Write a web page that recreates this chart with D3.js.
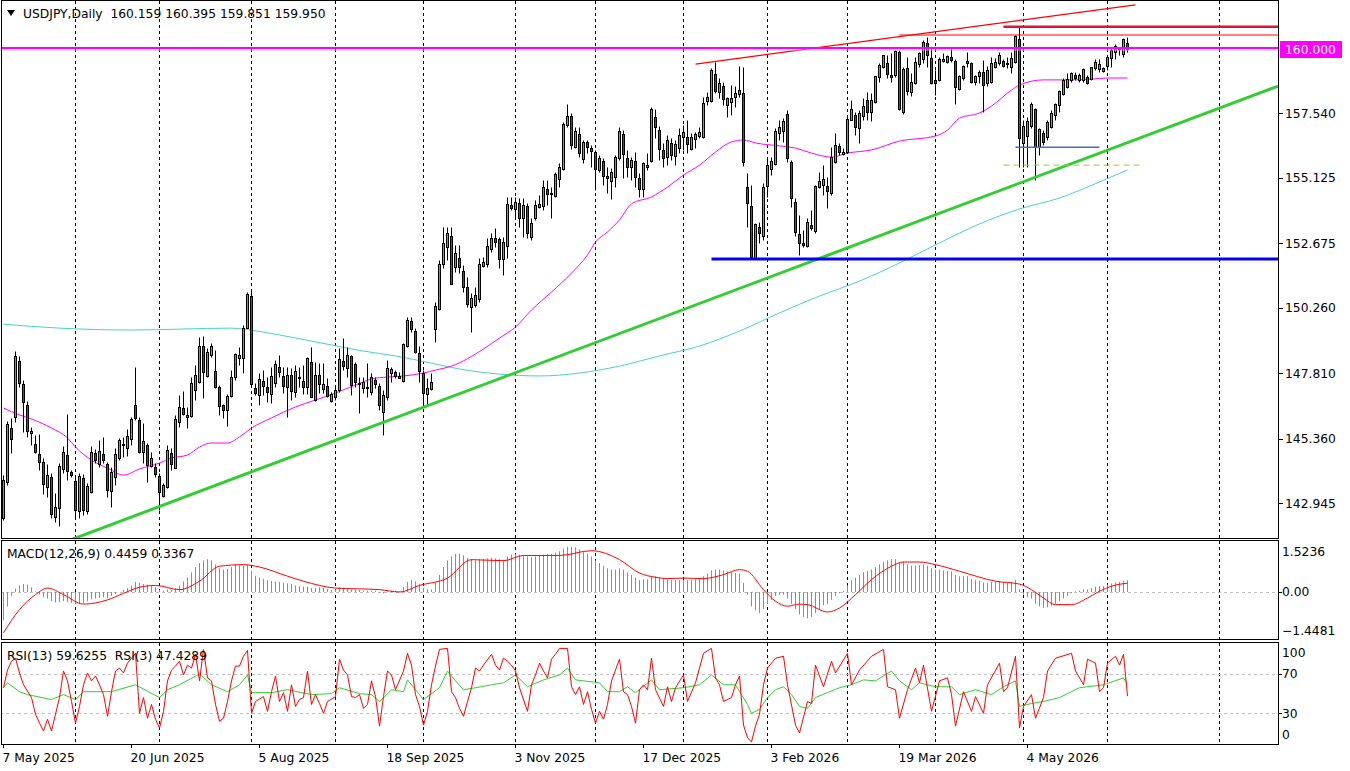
<!DOCTYPE html>
<html>
<head>
<meta charset="utf-8">
<title>USDJPY Daily</title>
<script src="https://cdn.jsdelivr.net/npm/d3@7"></script>
<style>
  body { margin: 0; background: #fff; }
  svg { display: block; }
  text { font-family: "DejaVu Sans", Verdana, sans-serif; font-size: 12.3px; fill: #000; white-space: pre; }
</style>
</head>
<body>
<svg id="chart" width="1350" height="771"></svg>
<script>
// ---------- data ----------
const opens = [
  142.39,143.74,145.76,146.17,148.27,147.41,146.62,145.57,145.16,144.79,
  144.49,143.55,143.93,142.43,142.77,144.23,144.75,144.11,143.78,142.66,
  143.89,142.66,143.37,144.83,144.41,144.79,144.41,143.40,143.93,144.64,
  145.13,145.01,145.35,146.62,146.06,144.86,145.13,144.34,144.30,143.97,
  143.22,143.55,144.83,144.26,145.99,146.51,146.17,146.21,147.18,147.48,
  148.83,147.71,148.49,147.90,147.30,146.62,146.44,146.96,147.67,148.38,
  148.38,149.50,150.70,147.26,147.00,147.52,147.30,147.03,147.45,148.04,
  147.71,147.30,147.75,147.11,147.67,147.52,147.30,148.23,146.81,147.75,
  147.22,147.33,146.77,146.92,147.18,148.27,148.01,148.46,148.16,147.45,
  147.26,147.26,147.11,147.56,147.33,146.36,146.92,147.82,147.86,147.71,
  147.52,148.83,149.77,149.39,148.57,147.82,147.03,147.22,149.47,150.22,
  151.90,152.54,152.95,151.79,152.12,151.64,151.04,150.29,150.37,150.59,
  151.82,151.90,152.46,152.87,152.84,152.09,152.57,154.11,153.96,154.18,
  153.62,154.07,152.91,153.62,154.03,154.07,154.71,154.56,154.45,155.08,
  155.46,157.10,157.44,156.28,156.77,155.83,156.47,156.24,156.09,155.42,
  155.75,155.19,155.01,155.16,155.87,156.77,155.87,155.53,155.75,155.12,
  154.71,155.53,155.75,157.40,156.91,156.17,155.90,156.43,155.94,156.24,
  156.65,156.65,156.20,156.58,156.69,156.65,158.00,158.00,159.01,158.34,
  158.56,157.85,157.96,158.15,158.26,158.30,154.78,154.07,152.12,153.28,
  152.95,154.82,155.45,155.64,156.80,156.88,157.51,155.72,154.22,153.02,
  152.69,152.57,153.36,153.13,154.78,154.86,154.82,154.56,155.72,156.32,
  156.02,156.09,157.29,157.48,156.99,157.44,158.04,157.59,157.96,158.90,
  159.27,159.42,158.97,158.97,159.83,157.59,159.24,158.34,158.67,159.38,
  159.57,160.17,159.61,158.79,158.79,159.50,159.46,159.65,159.50,158.45,
  158.86,159.50,159.42,158.71,158.94,159.09,158.67,158.71,159.27,159.42,
  159.50,159.38,159.27,159.46,160.32,156.43,156.69,157.06,157.70,156.28,
  156.80,156.65,157.03,157.48,157.85,158.26,158.52,158.79,158.97,158.79,
  158.79,158.90,158.82,159.24,159.20,159.12,159.31,159.61,159.83,159.95,
  159.76,160.159
];
const highs = [
  144.00,146.02,146.14,148.64,148.46,147.56,146.77,145.80,145.50,145.54,
  144.64,144.41,144.08,143.33,144.45,145.09,146.29,144.19,143.93,144.08,
  144.04,143.70,145.09,144.98,145.31,145.43,144.49,144.30,145.01,145.39,
  145.43,145.72,146.17,148.04,146.17,145.95,145.20,144.86,144.45,144.08,
  143.70,145.13,145.01,146.25,147.00,147.15,146.55,147.67,148.12,149.17,
  149.21,148.76,148.94,148.68,147.37,146.66,147.03,147.93,148.57,148.79,
  149.62,150.85,150.93,147.45,147.82,147.93,147.67,148.04,148.31,148.49,
  148.04,148.04,148.01,148.12,148.04,148.12,148.42,148.79,148.23,148.19,
  148.19,147.63,147.11,147.30,148.76,149.13,148.79,148.49,148.23,147.67,
  147.67,148.19,147.82,147.67,147.45,147.18,148.31,148.04,147.93,147.86,
  148.94,149.92,149.92,149.50,148.83,147.93,147.63,147.82,150.48,152.05,
  153.28,153.28,153.28,152.61,152.61,151.86,151.41,150.81,151.04,152.12,
  152.16,152.87,153.06,153.25,152.91,152.91,154.41,154.41,154.41,154.37,
  154.37,154.18,153.62,154.30,154.48,155.04,155.04,154.78,155.34,155.68,
  157.21,157.89,157.55,157.03,157.03,156.54,156.54,156.35,156.17,155.98,
  155.87,155.53,155.49,155.98,157.03,156.91,156.17,155.90,156.09,155.31,
  155.72,156.05,157.78,157.70,157.06,156.43,156.73,156.62,156.54,156.99,
  157.10,157.29,156.80,156.84,157.03,158.15,158.34,159.24,159.46,158.86,
  158.71,158.15,158.60,158.56,159.31,159.27,155.31,154.86,153.43,153.47,
  154.93,155.90,155.90,156.99,157.29,157.36,157.66,155.79,154.37,153.73,
  153.17,153.62,153.92,154.86,155.34,155.60,155.16,156.28,156.80,156.43,
  156.24,157.48,158.04,157.59,157.66,158.11,158.34,158.30,158.94,159.42,
  159.72,159.72,159.80,159.91,159.91,159.27,159.65,159.05,159.65,159.83,
  160.28,160.40,159.98,159.16,159.65,159.80,159.72,159.98,159.57,158.97,
  159.35,159.83,159.46,158.97,159.16,159.54,159.31,159.65,159.61,159.83,
  159.57,159.65,159.83,160.47,160.77,157.29,157.40,157.96,157.74,156.99,
  156.91,157.29,157.66,157.93,158.41,158.86,159.05,159.09,159.09,159.05,
  159.24,158.97,159.27,159.57,159.57,159.27,159.65,159.98,160.13,160.02,
  160.36,160.395
];
const lows = [
  142.32,143.63,144.83,145.99,147.30,145.61,145.43,145.13,144.83,144.19,
  143.29,143.18,142.39,142.24,142.09,144.08,143.82,143.93,142.39,142.39,
  142.51,142.54,143.33,144.45,144.30,144.45,143.18,142.81,143.63,144.56,
  144.68,144.71,145.13,146.06,144.83,144.45,143.74,144.30,143.93,142.69,
  143.18,143.52,144.19,144.26,145.80,146.25,145.76,146.17,146.81,147.45,
  146.88,147.67,148.42,147.26,146.25,146.14,145.84,146.92,147.56,148.12,
  147.82,149.50,147.37,147.00,146.62,147.00,146.73,146.70,147.30,147.67,
  147.07,146.17,146.81,146.92,147.30,147.03,147.03,146.92,146.77,147.07,
  147.07,146.92,146.73,146.81,147.11,147.93,147.67,147.00,147.30,146.32,
  147.07,146.92,147.00,147.26,146.44,145.50,146.81,147.48,147.63,147.63,
  147.48,148.79,149.35,148.57,147.48,146.55,146.62,147.18,148.98,150.18,
  151.75,152.05,151.15,151.60,151.56,150.85,150.29,149.35,150.29,150.48,
  151.79,151.79,152.35,152.54,151.75,151.49,152.12,153.92,153.62,153.28,
  152.91,152.87,152.80,153.55,153.99,153.92,154.11,153.62,154.41,154.78,
  155.42,157.03,156.20,156.24,155.90,155.68,156.05,155.53,154.67,155.34,
  154.86,154.56,154.33,154.78,155.79,155.12,155.16,155.04,154.78,154.41,
  154.41,155.42,155.72,156.62,155.79,155.53,155.60,155.79,155.60,156.05,
  156.17,156.05,156.17,156.24,156.62,156.62,157.85,157.96,158.30,158.11,
  157.85,157.40,157.48,157.78,158.15,155.57,153.28,152.12,152.09,152.69,
  152.80,154.41,155.23,155.60,156.54,156.47,155.72,154.03,152.95,152.24,
  152.54,152.54,153.17,153.06,154.74,154.48,153.99,154.48,155.68,155.98,
  155.98,156.05,157.29,156.73,156.43,157.29,157.29,157.25,157.93,158.71,
  159.24,158.86,158.71,158.90,157.66,157.51,158.22,158.19,158.64,159.27,
  159.42,159.27,158.64,158.22,158.75,159.46,159.42,159.46,157.89,158.41,
  158.79,159.27,158.67,158.60,158.67,157.59,158.56,158.67,159.24,159.35,
  159.27,159.24,159.05,159.42,155.53,155.53,155.53,156.99,155.04,155.98,
  156.35,156.54,156.99,157.29,157.59,158.22,158.49,158.71,158.79,158.71,
  158.71,158.64,158.79,159.16,159.09,159.09,159.16,159.27,159.57,159.72,
  159.65,159.851
];
const closes = [
  143.82,145.91,145.35,148.46,147.45,146.73,145.65,145.65,144.86,144.49,
  143.67,144.00,142.54,142.81,144.34,144.86,144.15,144.00,142.69,143.97,
  142.69,143.59,144.86,144.56,144.90,144.56,143.44,144.11,144.79,145.31,
  145.15,145.46,146.10,146.14,144.86,145.28,144.38,144.64,144.04,143.37,
  143.63,144.94,144.41,146.10,146.55,146.29,146.25,147.45,147.75,148.83,
  147.86,148.61,148.83,147.30,146.59,146.44,146.96,147.67,148.53,148.49,
  149.50,150.78,147.41,147.07,147.60,147.33,147.11,147.71,148.16,147.86,
  147.33,147.75,147.15,147.90,147.65,147.30,148.38,146.92,147.75,147.41,
  147.41,146.96,147.03,147.18,148.34,148.08,148.49,147.37,147.48,147.41,
  147.48,147.30,147.67,147.41,146.62,147.00,148.01,147.97,147.71,147.63,
  148.91,149.80,149.47,148.61,147.90,147.07,147.26,147.48,150.33,151.90,
  152.69,153.06,151.15,152.31,151.79,151.04,150.40,150.63,150.74,151.90,
  151.97,152.57,152.87,152.72,152.09,152.72,154.15,154.00,154.22,153.62,
  154.11,153.06,153.43,154.11,154.15,154.78,154.52,154.52,155.27,155.53,
  157.14,157.44,156.35,156.88,156.05,156.47,156.28,156.13,155.46,155.87,
  155.19,155.12,155.34,155.90,156.88,156.02,155.53,155.79,155.16,154.71,
  155.68,155.60,157.70,157.03,156.20,155.87,156.54,155.98,156.39,156.73,
  156.84,156.39,156.65,156.77,156.84,157.93,158.15,159.16,158.37,158.67,
  158.07,158.11,158.11,158.30,158.41,155.72,154.18,152.16,153.40,153.06,
  154.78,155.60,155.75,156.88,157.03,157.25,155.87,154.37,153.10,152.69,
  152.61,153.47,153.25,154.82,155.01,155.08,154.63,155.90,156.35,156.09,
  156.11,157.33,157.70,157.03,157.55,157.81,157.59,158.04,158.94,159.35,
  159.72,159.01,158.90,159.87,157.70,159.20,158.37,158.71,159.46,159.80,
  160.21,159.72,158.67,158.67,159.57,159.57,159.68,159.54,158.52,158.94,
  159.31,159.42,158.71,158.94,159.09,158.60,159.16,159.42,159.46,159.72,
  159.31,159.42,159.61,160.43,156.62,157.06,157.25,157.89,156.28,156.95,
  156.47,157.21,157.55,157.89,158.37,158.79,158.82,159.05,158.86,158.97,
  159.20,158.67,159.27,159.46,159.38,159.24,159.65,159.91,160.06,160.02,
  160.32,159.950
];

// calendar: weekdays from the first bar, minus broker holidays
const startDate = '2025-05-07';
const holidays = ['2025-12-25', '2026-01-01'];
const futureGridBar = 304;   // next separator, in the empty right margin

const dateTicks = ['7 May 2025', '20 Jun 2025', '5 Aug 2025', '18 Sep 2025', '3 Nov 2025',
  '17 Dec 2025', '3 Feb 2026', '19 Mar 2026', '4 May 2026'];
const priceTicks = [157.540, 155.125, 152.675, 150.260, 147.810, 145.360, 142.945];
const macdTicks = [1.5236, 0, -1.4481];
const rsiTicks = [100, 70, 30, 0];
const rsiLevels = [70, 30];

// moving averages, sampled [bar, price]
const maMagenta = [[0,146.51],[4,146.25],[7,146.10],[12,145.76],[16,145.39],[18,145.05],[22,144.56],
  [26,144.26],[30,144.00],[34,144.23],[39,144.45],[42,144.64],[46,144.75],[49,145.05],[52,145.20],
  [56,145.20],[59,145.43],[62,145.76],[67,146.14],[73,146.55],[78,146.81],[83,147.07],[88,147.37],
  [92,147.60],[96,147.67],[100,147.71],[105,147.82],[108,147.93],[112,148.08],[120,148.72],[124,149.13],
  [128,149.54],[132,150.18],[137,150.85],[142,151.56],[146,152.24],[148,152.72],[151,153.10],[154,153.55],
  [157,154.15],[162,154.41],[166,154.78],[170,155.23],[174,155.60],[178,156.09],[182,156.47],[185,156.54],
  [188,156.43],[194,156.32],[198,156.24],[202,156.05],[207,155.90],[211,156.05],[217,156.17],[224,156.50],
  [233,156.69],[236,156.91],[239,157.36],[244,157.55],[247,157.81],[252,158.41],[254,158.60],[260,158.79],
  [267,158.79],[272,158.82],[276,158.86],[281,158.86]];
const maCyan = [[0,149.65],[14,149.50],[32,149.43],[57,149.50],[65,149.35],[73,149.13],[82,148.87],
  [90,148.64],[98,148.46],[107,148.19],[114,147.97],[124,147.78],[134,147.71],[144,147.82],[154,148.08],
  [164,148.46],[174,148.83],[184,149.39],[194,150.07],[204,150.70],[214,151.26],[224,151.94],[234,152.69],
  [244,153.40],[254,153.96],[264,154.37],[274,154.97],[281,155.42]];

// MACD(12,26,9): histogram per bar, signal sampled [bar, value]
const macdHist = [
  -1.08,-0.55,-0.15,0.12,0.25,0.3,0.28,0.18,0.02,-0.1,
  -0.2,-0.25,-0.35,-0.4,-0.38,-0.35,-0.38,-0.42,-0.45,-0.45,
  -0.42,-0.35,-0.28,-0.25,-0.22,-0.2,-0.22,-0.15,-0.08,0,
  0.08,0.15,0.25,0.38,0.35,0.3,0.28,0.25,0.18,0.08,
  0.05,0.1,0.08,0.15,0.25,0.4,0.55,0.75,0.95,1.1,
  1.2,1.25,1.2,1.05,0.9,0.85,0.88,0.95,1.05,1.0,
  1.0,1.05,0.8,0.62,0.55,0.5,0.45,0.42,0.4,0.38,
  0.35,0.33,0.3,0.25,0.22,0.2,0.2,0.15,0.15,0.18,
  0.15,0.12,0.08,0.1,0.18,0.15,0.15,0.1,0.1,0.08,
  0.05,0.05,0.05,0.05,-0.02,-0.05,0.02,0.05,0.05,0.02,
  0.2,0.38,0.45,0.4,0.3,0.15,0.1,0.1,0.35,0.65,
  0.95,1.2,1.35,1.45,1.45,1.4,1.3,1.25,1.2,1.25,
  1.25,1.28,1.3,1.28,1.25,1.22,1.35,1.42,1.45,1.42,
  1.4,1.35,1.32,1.35,1.38,1.42,1.45,1.45,1.5,1.55,
  1.65,1.72,1.72,1.7,1.62,1.55,1.45,1.35,1.2,1.1,
  1.0,0.9,0.85,0.85,0.9,0.85,0.75,0.65,0.55,0.45,
  0.48,0.48,0.6,0.6,0.55,0.5,0.48,0.45,0.45,0.45,
  0.45,0.45,0.45,0.48,0.5,0.6,0.7,0.82,0.85,0.85,
  0.82,0.78,0.75,0.72,0.7,0.35,-0.1,-0.55,-0.7,-0.8,
  -0.65,-0.45,-0.3,-0.15,-0.1,-0.1,-0.25,-0.45,-0.65,-0.85,
  -0.95,-1.0,-0.95,-0.8,-0.65,-0.5,-0.45,-0.3,-0.15,-0.05,
  0.05,0.25,0.45,0.55,0.65,0.75,0.8,0.85,0.95,1.05,
  1.15,1.2,1.25,1.25,1.1,1.15,1.05,1.0,1.0,1.02,
  1.05,1.0,0.9,0.85,0.85,0.82,0.8,0.78,0.65,0.6,
  0.6,0.6,0.5,0.45,0.42,0.35,0.35,0.38,0.38,0.4,
  0.38,0.36,0.38,0.45,0.1,-0.1,-0.2,-0.25,-0.45,-0.55,
  -0.6,-0.58,-0.52,-0.45,-0.35,-0.25,-0.15,-0.05,0.02,0.05,
  0.1,0.1,0.15,0.2,0.22,0.22,0.28,0.32,0.36,0.38,
  0.43,0.4459
];
const macdSignal = [[0,-1.55],[4,-0.67],[8,-0.1],[11,0.15],[15,-0.1],[20,-0.46],[26,-0.3],[30,-0.05],
  [34,0.18],[38,0.25],[44,0.09],[49,0.41],[54,0.98],[60,1.04],[64,0.95],[71,0.6],[75,0.41],[83,0.15],
  [94,0.09],[99,0],[104,0.25],[111,0.53],[117,1.23],[125,1.19],[130,1.39],[139,1.39],[147,1.57],
  [154,1.23],[159,0.72],[163,0.56],[166,0.51],[170,0.53],[175,0.51],[180,0.66],[184,0.85],[186,0.79],
  [190,0.09],[193,-0.35],[196,-0.54],[199,-0.46],[201,-0.48],[206,-0.76],[209,-0.61],[213,-0.1],
  [217,0.47],[222,0.98],[225,1.14],[229,1.14],[233,1.04],[239,0.79],[248,0.41],[254,0.3],[257,0.09],
  [260,-0.23],[263,-0.48],[267,-0.48],[271,-0.23],[274,0.03],[277,0.22],[281,0.3367]];

// RSI(13) and RSI(3), [bar, value]
const rsi13 = [[0,56],[1,61],[4,52],[6,49],[12,44],[15,49],[18,44],[20,52],[27,52],[33,59],[39,46],
  [41,54],[44,59],[49,70],[52,59],[56,52],[59,59],[61,69],[62,51],[67,51],[71,54],[77,49],[82,50],
  [84,56],[89,50],[92,49],[94,42],[97,54],[100,52],[101,64],[104,49],[105,44],[109,56],[111,73],
  [113,63],[115,54],[118,56],[122,59],[125,61],[128,69],[131,57],[135,64],[139,69],[141,76],[143,64],
  [149,61],[151,52],[154,52],[156,57],[158,51],[162,64],[164,54],[170,56],[174,59],[177,69],[180,59],
  [183,59],[186,39],[187,30],[189,34],[191,46],[193,54],[195,57],[197,49],[199,37],[201,35],[203,46],
  [206,51],[209,56],[212,59],[215,64],[218,63],[220,68],[222,73],[224,63],[227,54],[229,61],[233,57],
  [237,57],[239,49],[243,54],[247,49],[250,57],[253,63],[254,37],[257,40],[260,42],[264,46],[269,56],
  [271,57],[275,59],[280,66],[281,59.6255]];
const rsi3 = [[0,56],[1,74],[2,83],[3,86],[4,71],[5,59],[7,46],[8,29],[9,20],[10,12],[11,24],[12,12],
  [13,29],[14,46],[15,73],[16,63],[17,42],[18,20],[19,37],[20,59],[21,71],[22,63],[23,68],[24,59],
  [25,49],[26,27],[27,52],[28,73],[29,76],[30,71],[31,81],[33,91],[34,30],[35,46],[36,25],[37,39],
  [38,24],[39,15],[40,32],[41,63],[42,74],[43,78],[44,83],[45,69],[46,79],[47,76],[48,90],[49,63],
  [50,95],[51,66],[52,63],[53,39],[54,22],[55,25],[56,42],[57,63],[58,78],[59,78],[60,88],[61,94],
  [62,30],[63,42],[65,47],[66,32],[67,52],[68,68],[69,42],[70,51],[71,32],[72,59],[73,37],[74,44],
  [75,46],[76,73],[77,39],[78,49],[79,40],[80,30],[81,42],[83,47],[84,85],[85,74],[86,69],[87,47],
  [88,46],[89,49],[90,35],[91,39],[92,63],[93,47],[94,17],[95,47],[96,73],[97,69],[98,54],[100,73],
  [101,91],[102,79],[103,49],[104,37],[105,18],[106,32],[107,59],[108,78],[109,95],[111,96],[112,52],
  [113,46],[114,35],[115,27],[116,42],[117,56],[118,76],[119,73],[120,79],[122,90],[123,79],[124,74],
  [125,86],[126,83],[127,79],[128,73],[129,56],[131,32],[132,59],[133,69],[134,81],[135,73],[136,66],
  [137,85],[138,90],[139,96],[141,96],[142,57],[143,49],[144,57],[145,39],[146,52],[147,34],[148,20],
  [149,32],[150,24],[151,39],[152,63],[153,74],[154,85],[155,52],[156,49],[157,37],[158,20],[159,54],
  [160,59],[161,54],[162,86],[163,54],[165,37],[166,57],[167,42],[168,56],[170,69],[171,42],[173,61],
  [174,76],[175,91],[177,96],[178,66],[179,59],[180,42],[182,46],[183,59],[184,68],[185,18],[186,5],
  [187,1],[188,17],[189,29],[190,59],[191,76],[193,86],[195,88],[196,59],[198,18],[199,10],[201,42],
  [202,40],[203,79],[205,57],[207,83],[208,71],[211,91],[212,59],[214,74],[217,88],[220,95],[221,57],
  [223,54],[224,25],[226,54],[228,76],[229,61],[230,79],[232,32],[234,63],[236,66],[237,49],[238,17],
  [240,52],[242,32],[243,47],[245,30],[246,59],[249,81],[250,52],[251,56],[253,88],[254,15],[255,37],
  [257,49],[258,25],[260,46],[261,73],[263,86],[267,91],[268,73],[270,59],[271,85],[273,81],[274,52],
  [275,56],[276,81],[278,88],[279,79],[280,90],[281,47.4289]];

// drawn objects: [bar, price]
const level160 = 160.000;
const greenTrend = [[19, 141.70], [255, 154.98]];
const redTrend = [[173, 159.38], [283, 161.60]];
const crimsonLevel = { from: 250, price: 160.78 };
const redLevel = { from: 224, price: 160.47 };
const blueLevel = { from: 177, price: 152.09 };
const steelLevel = { from: 253, to: 274, price: 156.27 };
const dashLevel = { from: 250, to: 284, price: 155.60 };

// ---------- layout ----------
const svg = d3.select('#chart');
const R = 1278;
const panels = {
  main: { top: 0, bottom: 538 },
  macd: { top: 540, bottom: 639 },
  rsi: { top: 642, bottom: 744 }
};
const x = d3.scaleLinear().domain([0, 1]).range([3.5, 7.5]);
const y = d3.scaleLinear().domain([141.646, 161.78]).range([538, 0]);
const yM = d3.scaleLinear().domain([-1.787, 1.939]).range([639, 541]);
const yR = d3.scaleLinear().domain([-1.2, 102.5]).range([744, 642]);
const iLeft = x.invert(0), iRight = x.invert(R);
const last = closes.length - 1;

// dates
const parse = d3.timeParse('%Y-%m-%d');
const key = d3.timeFormat('%Y-%m-%d');
const fmtTick = d3.timeFormat('%-d %b %Y');
const dates = [];
for (let d = parse(startDate); dates.length < closes.length; d = d3.timeDay.offset(d, 1)) {
  const wd = d.getDay();
  if (wd === 0 || wd === 6 || holidays.includes(key(d))) continue;
  dates.push(d);
}
const gridBars = dates.map((d, i) => (i > 0 && d.getMonth() !== dates[i - 1].getMonth()) ? i : -1)
  .filter(i => i >= 0);
gridBars.push(futureGridBar);

svg.append('rect').attr('width', 1350).attr('height', 771).attr('fill', '#fff');

const defs = svg.append('defs');
Object.entries(panels).forEach(([k, p]) => {
  defs.append('clipPath').attr('id', 'clip-' + k)
    .append('rect')
    .attr('x', 2).attr('y', p.top + 1)
    .attr('width', R - 2).attr('height', p.bottom - p.top - 1);
});

// vertical separators
Object.values(panels).forEach(p => {
  svg.append('g')
    .selectAll('line')
    .data(gridBars)
    .join('line')
    .attr('x1', d => x(d)).attr('x2', d => x(d))
    .attr('y1', p.top + 1).attr('y2', p.bottom)
    .attr('stroke', '#000')
    .attr('stroke-dasharray', '3,3');
});

// ---------- main panel ----------
const gMain = svg.append('g').attr('clip-path', 'url(#clip-main)');
const priceLine = d3.line().x(d => x(d[0])).y(d => y(d[1]));
const smooth = d3.line().x(d => x(d[0])).y(d => y(d[1])).curve(d3.curveMonotoneX);

gMain.append('path').datum(maCyan)
  .attr('d', smooth).attr('fill', 'none').attr('stroke', '#48d1cc').attr('stroke-width', 1);
gMain.append('path').datum(maMagenta)
  .attr('d', smooth).attr('fill', 'none').attr('stroke', '#ff00ff').attr('stroke-width', 1);

const bars = closes.map((c, i) => ({ i, o: opens[i], h: highs[i], l: lows[i], c }));
const snap = v => Math.round(v) + 0.5;

gMain.append('g')
  .selectAll('line')
  .data(bars)
  .join('line')
  .attr('x1', d => x(d.i)).attr('x2', d => x(d.i))
  .attr('y1', d => snap(y(Math.max(d.h, d.o, d.c))))
  .attr('y2', d => snap(y(Math.min(d.l, d.o, d.c))))
  .attr('stroke', '#000');

gMain.append('g')
  .selectAll('rect')
  .data(bars)
  .join('rect')
  .attr('x', d => x(d.i) - 1)
  .attr('width', 2)
  .attr('y', d => snap(y(Math.max(d.o, d.c))))
  .attr('height', d => snap(y(Math.min(d.o, d.c))) - snap(y(Math.max(d.o, d.c))))
  .attr('fill', d => d.c >= d.o ? '#32cd32' : '#e0161b')
  .attr('stroke', '#000')
  .attr('stroke-width', 1);

// objects
const extend = (pts, i) => pts[0][1] + (pts[1][1] - pts[0][1]) * (i - pts[0][0]) / (pts[1][0] - pts[0][0]);
gMain.append('path')
  .datum([[iLeft, extend(greenTrend, iLeft)], [iRight, extend(greenTrend, iRight)]])
  .attr('d', priceLine).attr('fill', 'none').attr('stroke', '#32cd32').attr('stroke-width', 3);
gMain.append('path').datum(redTrend)
  .attr('d', priceLine).attr('fill', 'none').attr('stroke', '#ff0000').attr('stroke-width', 1.3);

function hline(from, to, price, color, width, dash) {
  gMain.append('line')
    .attr('x1', x(from)).attr('x2', to === null ? R : x(to))
    .attr('y1', y(price)).attr('y2', y(price))
    .attr('stroke', color).attr('stroke-width', width)
    .attr('stroke-dasharray', dash || null);
}
hline(blueLevel.from, null, blueLevel.price, '#0000ff', 3);
hline(steelLevel.from, steelLevel.to, steelLevel.price, '#4a6ad0', 1.5);
hline(dashLevel.from, dashLevel.to, dashLevel.price, '#9acd32', 1, '6,4');
hline(redLevel.from, null, redLevel.price, '#ff0000', 1);
hline(crimsonLevel.from, null, crimsonLevel.price, '#dc143c', 2.5);
// bid line at the last close, then the 160 level
gMain.append('line')
  .attr('x1', 0).attr('x2', R)
  .attr('y1', snap(y(closes[last])) + 0.5).attr('y2', snap(y(closes[last])) + 0.5)
  .attr('stroke', '#c0c0c0');
gMain.append('line')
  .attr('x1', 0).attr('x2', R)
  .attr('y1', Math.round(y(level160))).attr('y2', Math.round(y(level160)))
  .attr('stroke', '#ff00ff').attr('stroke-width', 2);

// ---------- MACD panel ----------
const gMacd = svg.append('g').attr('clip-path', 'url(#clip-macd)');
gMacd.append('line')
  .attr('x1', 0).attr('x2', R)
  .attr('y1', snap(yM(0))).attr('y2', snap(yM(0)))
  .attr('stroke', '#c0c0c0').attr('stroke-dasharray', '3,3');
gMacd.append('g')
  .selectAll('line')
  .data(macdHist)
  .join('line')
  .attr('x1', (d, i) => x(i)).attr('x2', (d, i) => x(i))
  .attr('y1', yM(0)).attr('y2', d => yM(d))
  .attr('stroke', '#32cd32');
gMacd.append('path').datum(macdSignal)
  .attr('d', d3.line().x(d => x(d[0])).y(d => yM(d[1])).curve(d3.curveMonotoneX))
  .attr('fill', 'none').attr('stroke', '#ff0000');

// ---------- RSI panel ----------
const gRsi = svg.append('g').attr('clip-path', 'url(#clip-rsi)');
gRsi.append('g')
  .selectAll('line')
  .data(rsiLevels)
  .join('line')
  .attr('x1', 0).attr('x2', R)
  .attr('y1', d => snap(yR(d))).attr('y2', d => snap(yR(d)))
  .attr('stroke', '#c0c0c0').attr('stroke-dasharray', '3,3');
const rsiLine = d3.line().x(d => x(d[0])).y(d => yR(d[1]));
gRsi.append('path').datum(rsi13)
  .attr('d', rsiLine).attr('fill', 'none').attr('stroke', '#32cd32');
gRsi.append('path').datum(rsi3)
  .attr('d', rsiLine).attr('fill', 'none').attr('stroke', '#ff0000');

// ---------- frames ----------
Object.values(panels).forEach(p => {
  svg.append('rect')
    .attr('x', 1.5).attr('y', p.top + 0.5)
    .attr('width', R - 1).attr('height', p.bottom - p.top)
    .attr('fill', 'none').attr('stroke', '#000');
});

// ---------- right axes ----------
const axis = svg.append('g');
axis.selectAll('.pt')
  .data(priceTicks)
  .join('line')
  .attr('x1', R + 1).attr('x2', R + 5)
  .attr('y1', d => snap(y(d))).attr('y2', d => snap(y(d)))
  .attr('stroke', '#000');
axis.selectAll('.pl')
  .data(priceTicks)
  .join('text')
  .attr('x', R + 7).attr('y', d => y(d)).attr('dy', '0.36em')
  .text(d => d3.format('.3f')(d));

axis.append('rect')
  .attr('x', R + 2).attr('y', Math.round(y(level160)) - 7)
  .attr('width', 62).attr('height', 17)
  .attr('fill', '#ff00ff');
axis.append('text')
  .attr('x', R + 7).attr('y', Math.round(y(level160)) + 1.5).attr('dy', '0.36em')
  .style('fill', '#fff')
  .text(d3.format('.3f')(level160));

axis.selectAll('.ml')
  .data(macdTicks)
  .join('text')
  .attr('x', R + 4).attr('y', d => yM(d)).attr('dy', '0.36em')
  .text(d => d === 0 ? '0.00' : d3.format('.4f')(d));
axis.append('line')
  .attr('x1', R + 1).attr('x2', R + 4)
  .attr('y1', snap(yM(0))).attr('y2', snap(yM(0)))
  .attr('stroke', '#000');

axis.selectAll('.rl')
  .data(rsiTicks)
  .join('text')
  .attr('x', R + 4)
  .attr('y', d => Math.max(panels.rsi.top + 11, Math.min(panels.rsi.bottom - 9, yR(d))))
  .attr('dy', '0.36em')
  .text(d => d);
axis.selectAll('.rt')
  .data(rsiLevels)
  .join('line')
  .attr('x1', R + 1).attr('x2', R + 4)
  .attr('y1', d => snap(yR(d))).attr('y2', d => snap(yR(d)))
  .attr('stroke', '#000');

// ---------- date axis ----------
const tickBars = dateTicks.map(t => dates.findIndex(d => fmtTick(d) === t));
const dAxis = svg.append('g');
dAxis.selectAll('line')
  .data(tickBars)
  .join('line')
  .attr('x1', d => x(d)).attr('x2', d => x(d))
  .attr('y1', panels.rsi.bottom).attr('y2', panels.rsi.bottom + 4)
  .attr('stroke', '#000');
dAxis.selectAll('text')
  .data(tickBars)
  .join('text')
  .attr('x', d => x(d) - 1).attr('y', 762)
  .text(d => fmtTick(dates[d]));

// ---------- labels ----------
svg.append('path').attr('d', 'M7,10 L15,10 L11,16 Z').attr('fill', '#000');
const f3 = d3.format('.3f');
svg.append('text').attr('x', 23).attr('y', 18)
  .text(`USDJPY,Daily  ${f3(opens[last])} ${f3(highs[last])} ${f3(lows[last])} ${f3(closes[last])}`);
const f4 = d3.format('.4f');
svg.append('text').attr('x', 7).attr('y', 558)
  .text(`MACD(12,26,9) ${f4(macdHist[last])} ${f4(macdSignal[macdSignal.length - 1][1])}`);
svg.append('text').attr('x', 7).attr('y', 660)
  .text(`RSI(13) ${f4(rsi13[rsi13.length - 1][1])}  RSI(3) ${f4(rsi3[rsi3.length - 1][1])}`);
</script>
</body>
</html>
